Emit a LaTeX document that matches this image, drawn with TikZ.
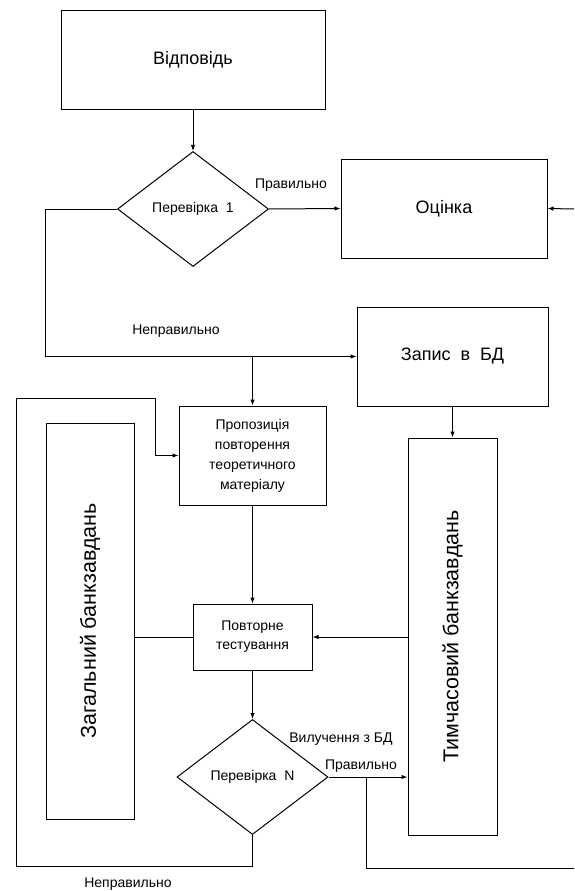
\documentclass[tikz,border=0pt]{standalone}
\usepackage{fontspec}
\setmainfont{Liberation Sans}
\usetikzlibrary{shapes.geometric,arrows.meta,calc}
\begin{document}
\begin{tikzpicture}[x=1pt,y=-1pt,line width=1pt,
  box/.style={draw,inner sep=0pt,align=center},
  dec/.style={draw,diamond,inner sep=0pt,minimum width=151pt,minimum height=115pt,font=\fontsize{14}{16}\selectfont},
  arr/.style={-{Latex[length=6pt,width=4.5pt]}},
  lbl/.style={inner sep=0pt,font=\fontsize{14}{16}\selectfont}]
  \useasboundingbox (0,0) rectangle (574,891);
  \node[box,minimum width=264pt,minimum height=98pt,font=\fontsize{18}{20}\selectfont] (ans) at (193,60) {Відповідь};
  \node[dec] (chk1) at (193,209) {Перевірка~~1};
  \node[box,minimum width=206pt,minimum height=99pt,font=\fontsize{18}{20}\selectfont] (score) at (444,208.5) {Оцінка};
  \node[box,minimum width=191pt,minimum height=99pt,font=\fontsize{18}{20}\selectfont] (rec) at (452.5,356.5) {Запис~~в~~БД};
  \node[box,minimum width=147pt,minimum height=99pt,font=\fontsize{14}{20}\selectfont] (prop) at (252.5,455.5) {Пропозиція\\ повторення\\ теоретичного\\ матеріалу};
  \node[box,minimum width=88pt,minimum height=396pt,font=\fontsize{21.5}{24}\selectfont] (gen) at (90,621) {\rotatebox{90}{Загальний банкзавдань}};
  \node[box,minimum width=89pt,minimum height=397pt,font=\fontsize{21.5}{24}\selectfont] (tmp) at (452.5,636.5) {\rotatebox{90}{Тимчасовий банкзавдань}};
  \node[box,minimum width=119pt,minimum height=66pt,font=\fontsize{14}{19}\selectfont] (rep) at (252.5,637) {Повторне\\ тестування};
  \node[dec] (chkN) at (252.5,777) {Перевірка~~N};
  % labels
  \node[lbl] (ok1) at (291,185) {Правильно};
  \node[lbl] (bad1) at (176,331) {Неправильно};
  \node[lbl] (del) at (341,739) {Вилучення з БД};
  \node[lbl] (okN) at (361,766) {Правильно};
  \node[lbl] (badN) at (128,884) {Неправильно};
  % free ends
  \coordinate (inR) at (574,209);
  \coordinate (loopL) at (16,866);
  \coordinate (loopT) at (155,398);
  \coordinate (outR) at (574,868);
  \coordinate (split) at ($(chkN.east)!0.48!(chkN.east -| tmp.west)$);
  \draw[arr] (ans) -- (chk1);
  \draw[arr] (chk1.east) -- (score.west);
  \draw[arr] (inR) -- (score.east);
  \draw[arr] (chk1.west) -- (chk1.west -| gen.west) |- (rec.west);
  \draw[arr] (prop.north |- rec.west) -- (prop.north);
  \draw[arr] (rec.south) -- (tmp.north);
  \draw[arr] (prop.south) -- (rep.north);
  \draw (gen.east |- rep.west) -- (rep.west);
  \draw[arr] (tmp.west |- rep.east) -- (rep.east);
  \draw[arr] (rep.south) -- (chkN.north);
  \draw[arr] (chkN.east) -- (chkN.east -| tmp.west);
  \draw (split) |- (outR);
  \draw[arr] (chkN.south) |- (loopL) |- (loopT) |- (prop.west);
\end{tikzpicture}
\end{document}
